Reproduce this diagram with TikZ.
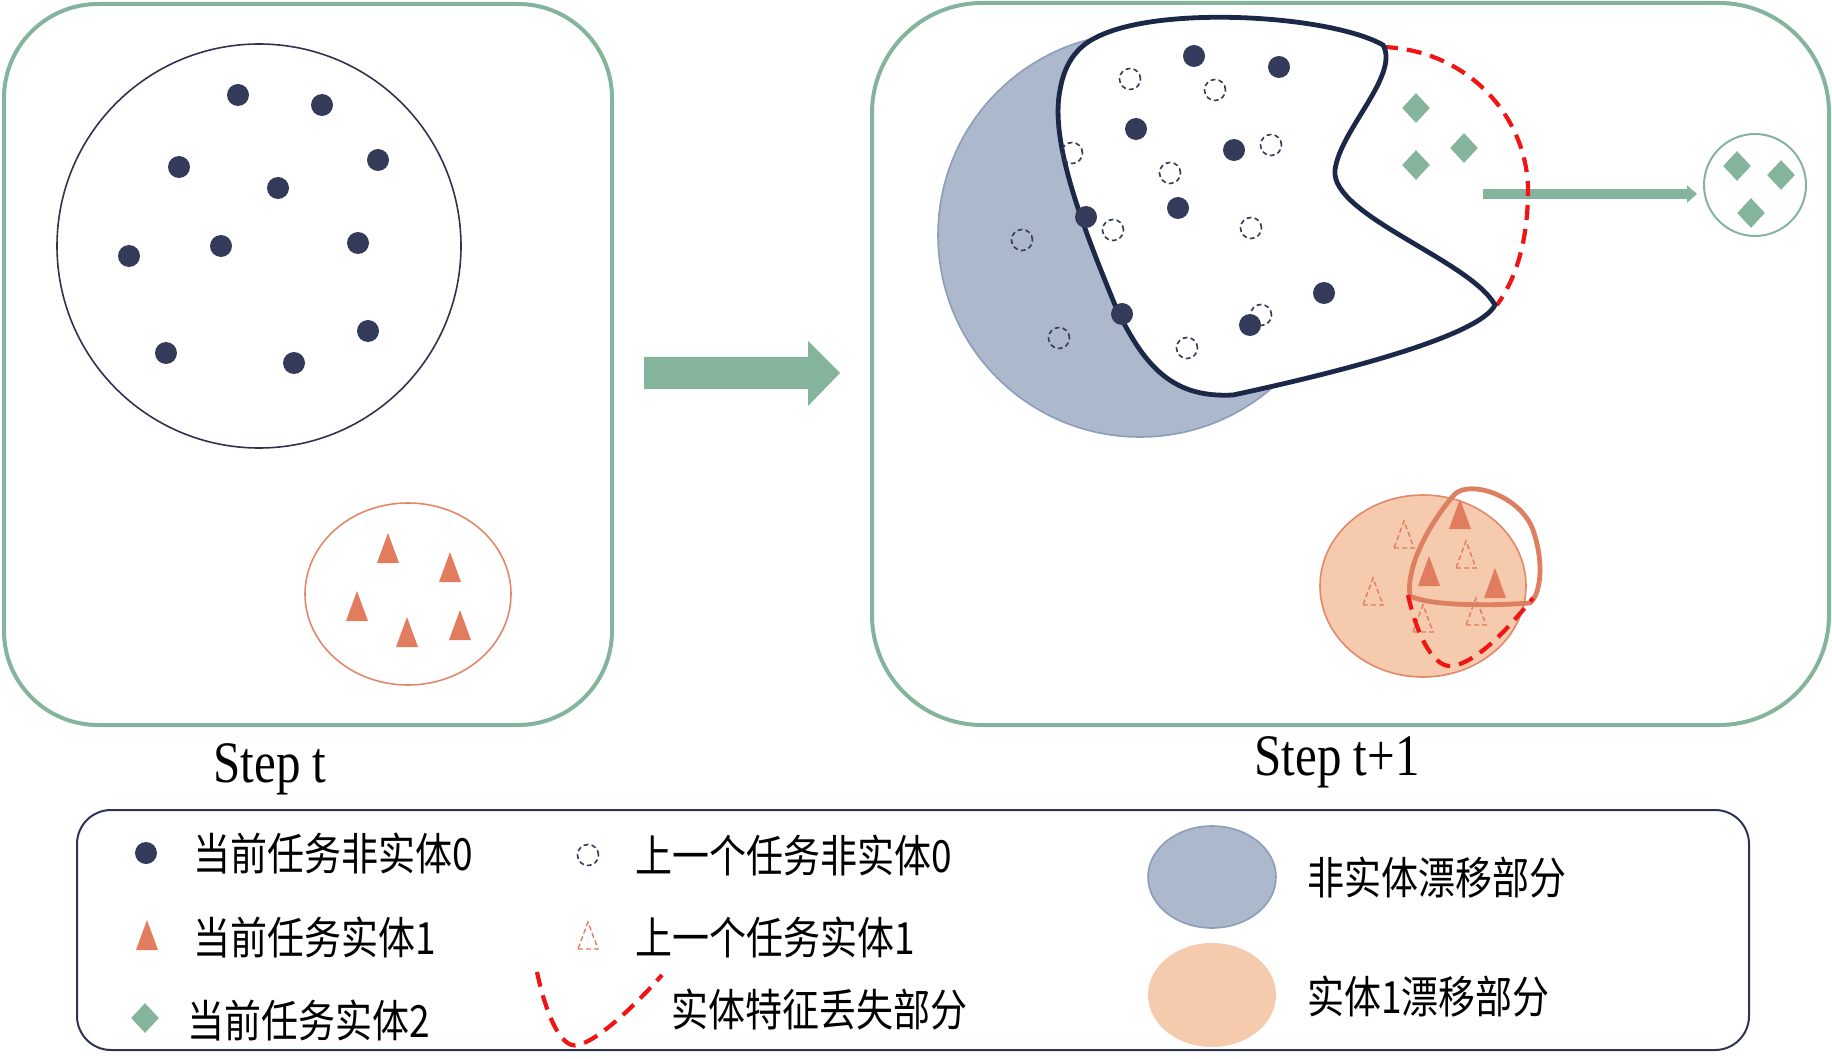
\documentclass[tikz,border=0pt]{standalone}
\usepackage{fontspec}
\setmainfont{Liberation Serif}
\newfontfamily\cjk{Noto Sans CJK SC}
\usepackage{graphicx}
\usetikzlibrary{arrows.meta,shapes.geometric}

\definecolor{panelgreen}{RGB}{133,180,156}
\definecolor{dotnavy}{RGB}{52,58,90}
\definecolor{blobnavy}{RGB}{28,40,72}
\definecolor{circnavy}{RGB}{50,50,80}
\definecolor{legnavy}{RGB}{45,52,85}
\definecolor{salmon}{RGB}{226,124,94}
\definecolor{rimsalmon}{RGB}{221,128,98}
\definecolor{peach}{RGB}{246,202,172}
\definecolor{peachline}{RGB}{226,136,106}
\definecolor{bluegray}{RGB}{172,185,205}
\definecolor{bluegrayline}{RGB}{140,157,185}
\definecolor{lossred}{RGB}{240,20,20}

\newcommand{\tallbox}[1]{\scalebox{1}[1.2]{#1}}

\tikzset{
  panel/.style={draw=panelgreen, line width=2pt},
  dot/.style={circle, fill=dotnavy, inner sep=0pt, minimum size=11pt},
  olddot/.style={circle, draw=dotnavy, line width=0.8pt, dash pattern=on 2.4pt off 1.6pt, inner sep=0pt, minimum size=10.5pt},
  gem/.style={diamond, fill=panelgreen, inner sep=0pt, minimum width=14pt, minimum height=15pt},
  tri/.pic={\fill[salmon] (-11,15) -- (11,15) -- (0,-15) -- cycle;},
  oldtri/.pic={\draw[salmon, line width=0.7pt, dash pattern=on 2.5pt off 1.5pt] (-10,13) -- (10,13) -- (0,-14) -- cycle;},
  lost/.style={draw=lossred, line width=2.1pt, dash pattern=on 7.5pt off 4.5pt},
  legtext/.style={anchor=west, inner sep=0pt, font=\cjk\fontsize{18.5}{22}\selectfont},
  steplabel/.style={anchor=base, inner sep=0pt, font=\fontsize{24.5}{28}\selectfont}
}

\begin{document}
\begin{tikzpicture}[x=0.5pt, y=-0.5pt]
\useasboundingbox (0,0) rectangle (1832,1059);

% step t
\draw[panel, rounded corners=47pt] (4,4) rectangle (612,725);
\draw[circnavy, line width=0.8pt] (259,246) circle[radius=202];
\foreach \x/\y [count=\i] in {238/95, 322/105, 179/167, 378/160, 278/188, 129/256, 221/246, 358/243, 368/331, 166/353, 294/363}
  \node[dot] (a\i) at (\x,\y) {};
\draw[peachline, line width=0.8pt] (408,594) ellipse[x radius=103, y radius=91];
\foreach \x/\y in {388/548, 450/567, 357/606, 407/632, 460/625}
  \pic at (\x,\y) {tri};
\node[steplabel] (labt) at (270,782) {\tallbox{Step t}};

% big arrow
\fill[panelgreen] (644,357) -- (808,357) -- (808,341) -- (840,373) -- (808,406) -- (808,389) -- (644,389) -- cycle;

% step t+1
\draw[panel, rounded corners=55pt] (872,3) rectangle (1829,725);
\filldraw[fill=bluegray, draw=bluegrayline, line width=0.8pt] (1140,235) circle[radius=202];

\coordinate (src) at (1483,194);
\node[circle, draw=panelgreen, line width=1pt, minimum size=51pt, inner sep=0pt] (pool) at (1755,185) {};
\draw[panelgreen, line width=4.75pt, -{Triangle[length=5pt,width=8.5pt]}, shorten >=3pt] (src) -- (src -| pool.west);
\draw[lost] (1383,47) .. controls (1470,50) and (1530,120) .. (1528,195) .. controls (1527,245) and (1515,280) .. (1497,305);

\filldraw[fill=white, draw=blobnavy, line width=2.4pt]
  (1097,37) .. controls (1160,5) and (1330,15) .. (1383,45)
  .. controls (1400,75) and (1340,130) .. (1335,170)
  .. controls (1330,215) and (1470,260) .. (1495,305)
  .. controls (1480,335) and (1350,370) .. (1233,395)
  .. controls (1175,398) and (1145,370) .. (1115,305)
  .. controls (1080,220) and (1050,140) .. (1060,90)
  .. controls (1065,60) and (1080,45) .. (1097,37) -- cycle;

\foreach \x/\y [count=\i] in {1130/79, 1215/90, 1072/153, 1271/145, 1170/173, 1113/230, 1251/228, 1022/240, 1261/315, 1059/338, 1187/348}
  \node[olddot] (o\i) at (\x,\y) {};
\foreach \x/\y [count=\i] in {1194/56, 1279/67, 1136/129, 1234/150, 1178/208, 1086/217, 1122/314, 1250/325, 1324/293}
  \node[dot] (b\i) at (\x,\y) {};
\foreach \x/\y [count=\i] in {1416/108, 1464/148, 1416/165}
  \node[gem] (g\i) at (\x,\y) {};
\foreach \x/\y [count=\i] in {1737/166, 1781/175, 1751/213}
  \node[gem] (h\i) at (\x,\y) {};

\filldraw[fill=peach, draw=peachline, line width=0.8pt] (1423,586) ellipse[x radius=103, y radius=91];
\foreach \x/\y in {1404/535, 1466/555, 1373/592, 1423/619, 1476/612}
  \pic at (\x,\y) {oldtri};
\foreach \x/\y in {1460/514, 1429/571, 1495/583}
  \pic at (\x,\y) {tri};
\draw[rimsalmon, line width=2.4pt]
  (1410,596) .. controls (1405,560) and (1440,510) .. (1455,494)
  .. controls (1470,480) and (1520,495) .. (1533,530)
  .. controls (1545,565) and (1540,595) .. (1530,603)
  .. controls (1490,606) and (1430,606) .. (1410,596) -- cycle;
\draw[lost] (1408,595) .. controls (1418,640) and (1435,668) .. (1452,666) .. controls (1480,662) and (1515,620) .. (1533,598);
\node[steplabel] (labt1) at (1337,775) {\tallbox{Step t+1}};

% legend
\draw[legnavy, line width=1pt, rounded corners=17pt] (77,810) rectangle (1749,1050);
\node[dot] (kdot) at (146,853) {};
\pic at (147,935) {tri};
\node[gem] (kgem) at (145,1018) {};
\node[olddot] (kold) at (588,855) {};
\pic at (588,936) {oldtri};
\draw[lost] (537,972) .. controls (545,1010) and (560,1050) .. (578,1045) .. controls (600,1040) and (640,1000) .. (662,975);
\filldraw[fill=bluegray, draw=bluegrayline, line width=0.8pt] (1212,877) ellipse[x radius=64, y radius=51];
\fill[peach] (1212,995) ellipse[x radius=64, y radius=52];
\node[legtext] (t1) at (193,853) {\tallbox{当前任务非实体0}};
\node[legtext] (t2) at (193,937) {\tallbox{当前任务实体1}};
\node[legtext] (t3) at (187,1020) {\tallbox{当前任务实体2}};
\node[legtext] (t4) at (635,855) {\tallbox{上一个任务非实体0}};
\node[legtext] (t5) at (635,937) {\tallbox{上一个任务实体1}};
\node[legtext] (t6) at (671,1010) {\tallbox{实体特征丢失部分}};
\node[legtext] (t7) at (1307,878) {\tallbox{非实体漂移部分}};
\node[legtext] (t8) at (1307,997) {\tallbox{实体1漂移部分}};
\end{tikzpicture}
\end{document}
